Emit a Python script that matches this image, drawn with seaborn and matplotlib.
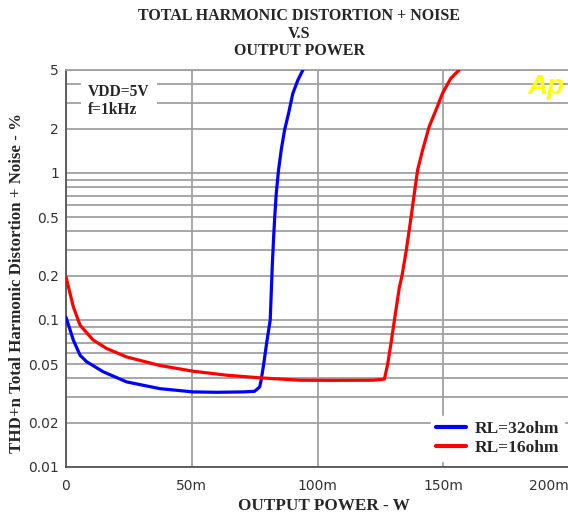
import pandas as pd
import matplotlib
matplotlib.use("Agg")
import matplotlib.pyplot as plt
import seaborn as sns

# Output power in mW, THD+N in %
blue_power = [0, 1.3, 2.9, 5.6, 8.2, 14.8, 24.1, 37.3, 50.5, 60.0, 70.4, 75.0,
              77.0, 77.6, 78.6, 79.8, 81.2, 81.6, 82.0, 82.5, 83.0, 83.6, 84.5,
              85.6, 86.9, 88.5, 90.2, 92.2, 94.2]
blue_thd = [0.104, 0.089, 0.073, 0.0575, 0.052, 0.0444, 0.0379, 0.0341, 0.0324,
            0.0322, 0.0324, 0.0327, 0.035, 0.039, 0.05, 0.07, 0.1, 0.151, 0.23,
            0.349, 0.503, 0.725, 1.04, 1.44, 1.95, 2.54, 3.47, 4.27, 5.0]

red_power = [0, 1.3, 2.9, 5.6, 10.8, 16.1, 24.1, 37.3, 50.5, 63.8, 77.0, 92.9,
             105.0, 122.0, 126.6, 127.9, 129.2, 130.6, 132.5, 133.6, 135.2,
             136.3, 137.2, 138.5, 139.8, 141.8, 144.4, 147.1, 149.7, 153.0, 156.3]
red_thd = [0.196, 0.159, 0.123, 0.092, 0.073, 0.064, 0.056, 0.049, 0.0448,
           0.0421, 0.0404, 0.0389, 0.0388, 0.0389, 0.0396, 0.05, 0.069, 0.1,
           0.165, 0.2, 0.29, 0.39, 0.5, 0.725, 1.044, 1.43, 2.06, 2.67, 3.47,
           4.39, 5.0]

series_names = ["RL=32ohm", "RL=16ohm"]
series_colors = ["#0000ff", "#ff0000"]

x_ticks = [0, 50, 100, 150, 200]
x_tick_labels = ["0", "50m", "100m", "150m", "200m"]
y_ticks = [0.01, 0.02, 0.05, 0.1, 0.2, 0.5, 1, 2, 5]
y_tick_labels = ["0.01", "0.02", "0.05", "0.1", "0.2", "0.5", "1", "2", "5"]

df = pd.concat([
    pd.DataFrame({"power": blue_power, "thd": blue_thd, "load": series_names[0]}),
    pd.DataFrame({"power": red_power, "thd": red_thd, "load": series_names[1]}),
])

sns.set_style("white")
plt.rcParams["font.family"] = ["DejaVu Sans"]
serif = "Liberation Serif"
grid_c = "#a0a0a0"

fig = plt.figure(figsize=(5.68, 5.18), dpi=100)
ax = fig.add_axes([66 / 568, 51 / 518, 503 / 568, 397 / 518])

sns.lineplot(data=df, x="power", y="thd", hue="load", hue_order=series_names,
             palette=dict(zip(series_names, series_colors)), estimator=None,
             sort=False, linewidth=2.3, ax=ax, zorder=3)

ax.set_yscale("log")
ax.set_xlim(0, 200)
ax.set_ylim(0.01, 5)

# grid: every 1..9 in each decade, vertical every 50m
minor_y = [m * 10.0 ** e for e in (-2, -1, 0) for m in range(2, 10) if m * 10.0 ** e <= 5]
ax.set_yticks(y_ticks)
ax.set_yticklabels(y_tick_labels)
ax.set_yticks(minor_y, minor=True)
ax.set_yticklabels([], minor=True)
ax.set_xticks(x_ticks)
ax.set_xticklabels(x_tick_labels)
ax.set_xticks(range(0, 201, 5), minor=True)
ax.grid(True, which="both", axis="y", color=grid_c, linewidth=1.3)
ax.grid(True, which="major", axis="x", color=grid_c, linewidth=1.3)
ax.set_axisbelow(True)

ax.tick_params(axis="y", which="both", length=0, pad=5, labelsize=10, labelcolor="#333333")
ax.tick_params(axis="x", which="major", length=0, pad=9, labelsize=10, labelcolor="#333333")
ax.tick_params(axis="x", which="minor", direction="in", length=4, width=1, color="#555555")
ax.get_xticklabels()[-1].set_horizontalalignment("right")
ax.get_xticklabels()[-1].set_x(198.5)

for side in ["left", "bottom"]:
    ax.spines[side].set_color("#555555")
    ax.spines[side].set_linewidth(1.3)
ax.spines["top"].set_color(grid_c)
ax.spines["top"].set_linewidth(1.3)
ax.spines["right"].set_visible(False)

ax.set_xlabel("")
ax.set_ylabel("")

leg = ax.legend(loc="lower right", bbox_to_anchor=(0.99, 0.015), frameon=True,
                fancybox=False, framealpha=1, edgecolor="white", facecolor="white",
                prop={"family": serif, "weight": "bold", "size": 12.5},
                handlelength=1.75, handletextpad=0.45, labelspacing=0.15,
                borderpad=0.3, borderaxespad=0)
for line in leg.get_lines():
    line.set_linewidth(3)

ax.text(0.044, 0.965, "VDD=5V\nf=1kHz", transform=ax.transAxes, ha="left", va="top",
        family=serif, weight="bold", fontsize=11.2, linespacing=1.2, zorder=5,
        bbox=dict(facecolor="white", edgecolor="none", pad=5))

fig.text(546 / 568, 1 - 87 / 518, "Ap", color="#ffff00", fontsize=20, weight="bold",
         style="italic", family="Liberation Sans", ha="center", va="center")

title_lines = ["TOTAL HARMONIC DISTORTION + NOISE", "V.S", "OUTPUT POWER"]
for i, t in enumerate(title_lines):
    fig.text(299 / 568, 1 - (16 + 17.5 * i) / 518, t, ha="center", va="center",
             family=serif, weight="bold", fontsize=11.5)

fig.text(324 / 568, 1 - 506 / 518, "OUTPUT POWER - W", ha="center", va="center",
         family=serif, weight="bold", fontsize=12.3)
fig.text(17 / 568, 1 - 283 / 518, "THD+n Total Harmonic Distortion + Noise - %",
         rotation=90, ha="center", va="center", family=serif, weight="bold",
         fontsize=12.2)

fig.savefig("out.png", dpi=100)
